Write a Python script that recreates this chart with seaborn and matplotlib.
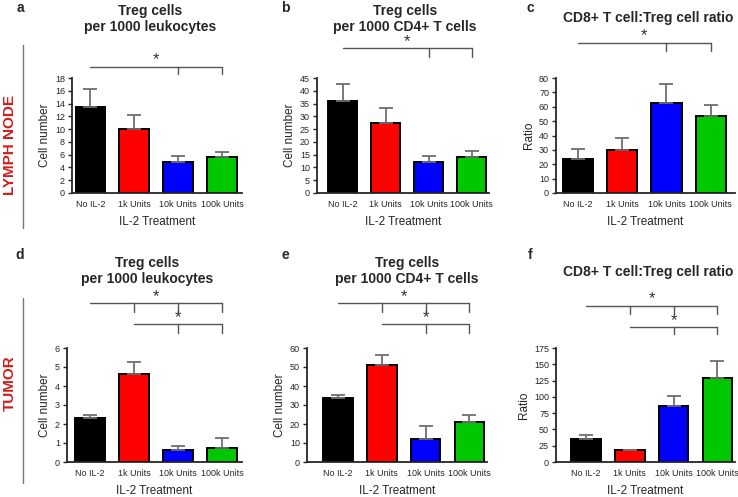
import numpy as np
import pandas as pd
import matplotlib.pyplot as plt
import matplotlib.transforms as mtransforms
import seaborn as sns

# groups and colours
treatments = ["No IL-2", "1k Units", "10k Units", "100k Units"]
bar_colors = ["#000000", "#ff0000", "#0000ff", "#00c800"]

# lymph node
ln_leuko = [13.5, 10.0, 4.9, 5.7]
ln_leuko_err = [2.8, 2.2, 0.9, 0.7]
ln_cd4 = [36.0, 27.5, 12.2, 14.1]
ln_cd4_err = [6.8, 5.8, 2.4, 2.2]
ln_ratio = [23.5, 30.2, 62.3, 53.8]
ln_ratio_err = [7.3, 8.1, 13.2, 7.3]

# tumor
tu_leuko = [2.33, 4.62, 0.63, 0.73]
tu_leuko_err = [0.15, 0.63, 0.20, 0.55]
tu_cd4 = [33.8, 51.3, 12.3, 20.9]
tu_cd4_err = [1.6, 5.0, 6.6, 4.1]
tu_ratio = [35.0, 19.0, 86.0, 129.0]
tu_ratio_err = [7.0, 0.0, 15.0, 26.0]

sns.set_style("ticks")
plt.rcParams["font.family"] = ["Liberation Sans", "DejaVu Sans"]

W, H = 738, 497
fig = plt.figure(figsize=(W / 100, H / 100), dpi=100)


def rect(left, right, top, bottom):
    return [left / W, 1 - bottom / H, (right - left) / W, (bottom - top) / H]


# letter, title lines, means, errs, ylabel, ymax, ystep, rect, xlim, title pos, letter pos, brackets
panels = [
    ("a", "Treg cells\nper 1000 leukocytes", ln_leuko, ln_leuko_err, "Cell number", 18, 2,
     rect(72, 242, 78, 193), (-0.42, 3.45), (150, 19), (20, 8),
     [(67, 0, 3, [2, 3], 74, 1.5, 60)]),
    ("b", "Treg cells\nper 1000 CD4+ T cells", ln_cd4, ln_cd4_err, "Cell number", 45, 5,
     rect(317, 489, 78, 193), (-0.6, 3.4), (405, 19), (285, 8),
     [(48, 0, 3, [2, 3], 57, 1.5, 42)]),
    ("c", "CD8+ T cell:Treg cell ratio", ln_ratio, ln_ratio_err, "Ratio", 80, 10,
     rect(556, 735, 78, 193), (-0.5, 3.55), (648, 18), (530, 8),
     [(43, 0, 3, [2, 3], 51, 1.5, 36)]),
    ("d", "Treg cells\nper 1000 leukocytes", tu_leuko, tu_leuko_err, "Cell number", 6, 1,
     rect(67, 242, 348, 462), (-0.52, 3.45), (147, 271), (20, 255),
     [(303, 0, 3, [1, 2, 3], 312, 1.5, 297), (324, 1, 3, [2, 3], 333, 2, 318)]),
    ("e", "Treg cells\nper 1000 CD4+ T cells", tu_cd4, tu_cd4_err, "Cell number", 60, 10,
     rect(307, 487, 348, 462), (-0.7, 3.4), (407, 271), (285, 255),
     [(303, 0, 3, [1, 2, 3], 312, 1.5, 297), (324, 1, 3, [2, 3], 333, 2, 318)]),
    ("f", "CD8+ T cell:Treg cell ratio", tu_ratio, tu_ratio_err, "Ratio", 175, 25,
     rect(556, 735, 348, 462), (-0.68, 3.4), (648, 272), (530, 255),
     [(306, 0, 3, [1, 2, 3], 314, 1.5, 299), (327, 1, 3, [2, 3], 334, 2, 321)]),
]

line_col = "#555555"

for (letter, title, means, errs, ylab, ymax, ystep, r, xl, tpos, lpos, brackets) in panels:
    ax = fig.add_axes(r)
    df = pd.DataFrame({"treatment": treatments, "value": means})
    sns.barplot(data=df, x="treatment", y="value", hue="treatment", palette=bar_colors,
                saturation=1, width=0.68, edgecolor="black", linewidth=1.4,
                errorbar=None, legend=False, ax=ax)
    ax.errorbar(np.arange(len(treatments)), means,
                yerr=[np.zeros(len(errs)), errs], fmt="none", ecolor="#6e6e6e",
                elinewidth=1.3, capsize=5, capthick=1.3, zorder=5)
    ax.set_ylim(0, ymax)
    ax.set_yticks(np.arange(0, ymax + 0.001, ystep))
    ax.set_xlim(*xl)
    ax.set_ylabel(ylab, fontsize=8.5, labelpad=3)
    ax.set_xlabel("IL-2 Treatment", fontsize=8.5, labelpad=5)
    ax.tick_params(axis="y", labelsize=6.5, length=3, width=1, pad=2)
    ax.tick_params(axis="x", labelsize=6.5, length=0, pad=5)
    for s in ["left", "bottom"]:
        ax.spines[s].set_linewidth(1.3)
    sns.despine(ax=ax)

    fig.text(tpos[0] / W, 1 - tpos[1] / H, title, ha="center", va="center",
             fontsize=10, fontweight="bold", linespacing=1.15)
    fig.text(lpos[0] / W, 1 - lpos[1] / H, letter, ha="center", va="center",
             fontsize=10, fontweight="bold")

    # significance brackets: x in category units, y in figure pixels
    tr = mtransforms.blended_transform_factory(ax.transData, fig.transFigure)
    for (yl, x0, x1, ticks, yt, sx, sy) in brackets:
        ax.plot([x0, x1], [1 - yl / H, 1 - yl / H], color=line_col, lw=1,
                transform=tr, clip_on=False)
        for t in ticks:
            ax.plot([t, t], [1 - yl / H, 1 - yt / H], color=line_col, lw=1,
                    transform=tr, clip_on=False)
        ax.text(sx, 1 - sy / H, "*", transform=tr, ha="center", va="center",
                fontsize=12, color="#333333")

# row labels
fig.text(10 / W, 1 - 145 / H, "LYMPH NODE", rotation=90, ha="center", va="center",
         color="#d41c1c", fontsize=11, fontweight="bold")
fig.text(10 / W, 1 - 383 / H, "TUMOR", rotation=90, ha="center", va="center",
         color="#d41c1c", fontsize=11, fontweight="bold")
fig.add_artist(plt.Line2D([23 / W, 23 / W], [1 - 45 / H, 1 - 228 / H], color="#777777", lw=1))
fig.add_artist(plt.Line2D([23 / W, 23 / W], [1 - 298 / H, 1 - 483 / H], color="#777777", lw=1))

fig.savefig("out.png", dpi=100)
